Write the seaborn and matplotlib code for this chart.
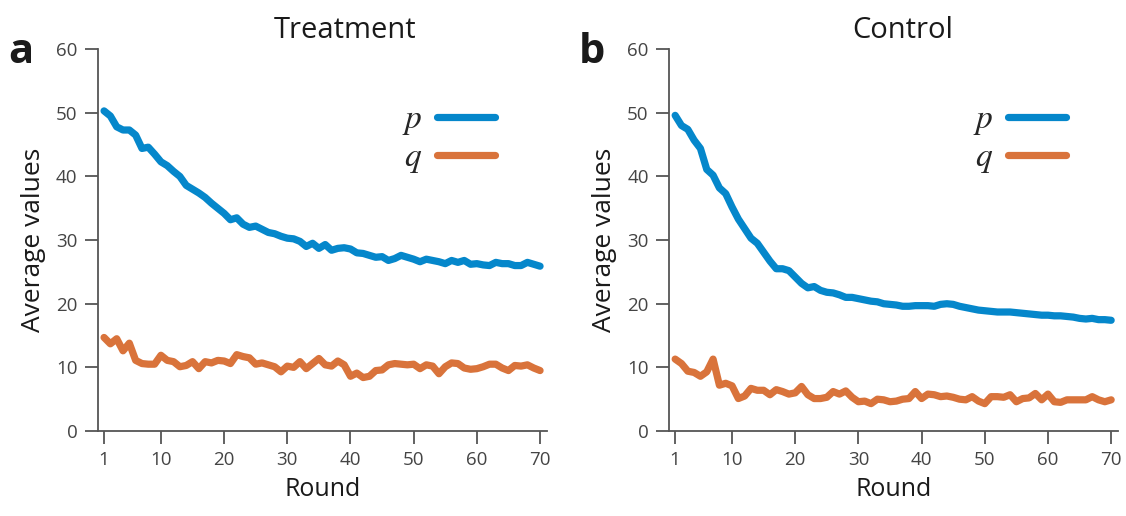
import numpy as np
import pandas as pd
import matplotlib
matplotlib.use("Agg")
import matplotlib.pyplot as plt
import seaborn as sns

rounds = list(range(1, 71))

treat_p = [50.3, 49.5, 47.8, 47.3, 47.3, 46.5, 44.4, 44.6, 43.5, 42.3,
           41.7, 40.8, 40.0, 38.6, 38.0, 37.4, 36.7, 35.8, 35.0, 34.2,
           33.2, 33.5, 32.5, 32.0, 32.2, 31.7, 31.2, 31.0, 30.6, 30.3,
           30.2, 29.8, 29.0, 29.5, 28.7, 29.3, 28.4, 28.7, 28.8, 28.6,
           28.0, 27.9, 27.6, 27.3, 27.4, 26.8, 27.1, 27.6, 27.3, 27.0,
           26.6, 27.0, 26.8, 26.6, 26.3, 26.8, 26.5, 26.8, 26.2, 26.3,
           26.1, 26.0, 26.5, 26.3, 26.3, 26.0, 26.0, 26.5, 26.2, 25.9]

treat_q = [14.7, 13.7, 14.5, 12.6, 13.8, 11.1, 10.6, 10.5, 10.5, 11.9,
           11.1, 10.9, 10.1, 10.3, 10.9, 9.8, 10.9, 10.7, 11.1, 11.0,
           10.6, 12.0, 11.7, 11.5, 10.5, 10.7, 10.4, 10.1, 9.3, 10.2,
           10.0, 10.9, 9.8, 10.6, 11.4, 10.4, 10.2, 11.0, 10.4, 8.6,
           9.1, 8.4, 8.6, 9.5, 9.6, 10.4, 10.6, 10.5, 10.4, 10.5,
           9.8, 10.4, 10.2, 9.0, 10.1, 10.7, 10.6, 9.9, 9.7, 9.8,
           10.1, 10.5, 10.5, 9.9, 9.5, 10.3, 10.2, 10.4, 9.9, 9.5]

ctrl_p = [49.6, 48.0, 47.4, 45.7, 44.4, 41.1, 40.2, 38.2, 37.3, 35.2,
          33.3, 31.8, 30.3, 29.5, 28.1, 26.7, 25.5, 25.5, 25.2, 24.2,
          23.2, 22.5, 22.7, 22.1, 21.8, 21.7, 21.4, 21.0, 21.0, 20.8,
          20.6, 20.4, 20.3, 20.0, 19.9, 19.8, 19.6, 19.6, 19.7, 19.7,
          19.7, 19.6, 19.9, 20.0, 19.9, 19.6, 19.4, 19.2, 19.0, 18.9,
          18.8, 18.7, 18.7, 18.7, 18.6, 18.5, 18.4, 18.3, 18.2, 18.2,
          18.1, 18.1, 18.0, 17.9, 17.7, 17.6, 17.7, 17.5, 17.5, 17.4]

ctrl_q = [11.3, 10.6, 9.4, 9.2, 8.6, 9.3, 11.3, 7.2, 7.5, 7.1,
          5.1, 5.5, 6.7, 6.4, 6.4, 5.7, 6.5, 6.2, 5.8, 6.0,
          7.0, 5.7, 5.1, 5.1, 5.3, 6.2, 5.8, 6.3, 5.3, 4.6,
          4.7, 4.3, 5.0, 4.9, 4.6, 4.7, 5.0, 5.1, 6.2, 5.1,
          5.8, 5.7, 5.4, 5.5, 5.3, 5.0, 4.9, 5.4, 4.7, 4.3,
          5.4, 5.4, 5.3, 5.7, 4.6, 5.1, 5.2, 5.9, 4.9, 5.8,
          4.6, 4.5, 4.9, 4.9, 4.9, 4.9, 5.4, 4.9, 4.6, 4.9]

titles = ["Treatment", "Control"]
panel_labels = ["a", "b"]
series_names = ["p", "q"]
xticks = [1, 10, 20, 30, 40, 50, 60, 70]
yticks = [0, 10, 20, 30, 40, 50, 60]

sns.set_style("ticks")
plt.rcParams['font.family'] = ['Open Sans', 'DejaVu Sans']
plt.rcParams['mathtext.fontset'] = 'stix'

BLUE = "#0587CB"
ORANGE = "#D9733B"
GREY = "#444444"
SPINE = "#555555"
DARK = "#1A1A1A"

fig = plt.figure(figsize=(11.26, 5.16), dpi=100)
ax_a = fig.add_axes([0.0868, 0.1647, 0.399, 0.740])
ax_b = fig.add_axes([0.594, 0.1647, 0.399, 0.740])

datasets = [(treat_p, treat_q), (ctrl_p, ctrl_q)]
title_x = [0.551, 0.521]

for ax, (pv, qv), title, lab, tx in zip([ax_a, ax_b], datasets, titles,
                                         panel_labels, title_x):
    df = pd.DataFrame({
        "Round": rounds * 2,
        "value": list(pv) + list(qv),
        "series": [series_names[0]] * len(rounds) + [series_names[1]] * len(rounds),
    })
    sns.lineplot(data=df, x="Round", y="value", hue="series",
                 palette={"p": BLUE, "q": ORANGE}, linewidth=5.2,
                 ax=ax, legend=False)
    ax.set_xlim(0, 71.1)
    ax.set_ylim(0, 60)
    ax.set_xticks(xticks)
    ax.set_yticks(yticks)
    ax.spines['top'].set_visible(False)
    ax.spines['right'].set_visible(False)
    for s in ['left', 'bottom']:
        ax.spines[s].set_color(SPINE)
        ax.spines[s].set_linewidth(1.3)
    ax.tick_params(axis='both', direction='out', length=9.5, width=1.3,
                   color=SPINE, labelcolor=GREY, labelsize=13.5, pad=5)
    ax.set_xlabel("Round", fontsize=18, color=DARK, labelpad=6)
    ax.set_ylabel("Average values", fontsize=19, color=DARK, labelpad=7)
    ax.set_title(title, fontsize=21, color=DARK, pad=8, x=tx)
    ax.text(-0.2, 0.99, lab, transform=ax.transAxes, fontsize=30,
            fontweight='bold', color=DARK, ha='left', va='center')

    handles = [plt.Line2D([], [], color=BLUE, linewidth=5.2),
               plt.Line2D([], [], color=ORANGE, linewidth=5.2)]
    ax.legend(handles, ["$p$", "$q$"], loc='upper right',
              bbox_to_anchor=(0.885, 0.858), markerfirst=False,
              frameon=False, fontsize=24, handlelength=1.75,
              handletextpad=0.45, labelspacing=0.12, borderpad=0,
              borderaxespad=0)

fig.savefig("out.png", dpi=100)
